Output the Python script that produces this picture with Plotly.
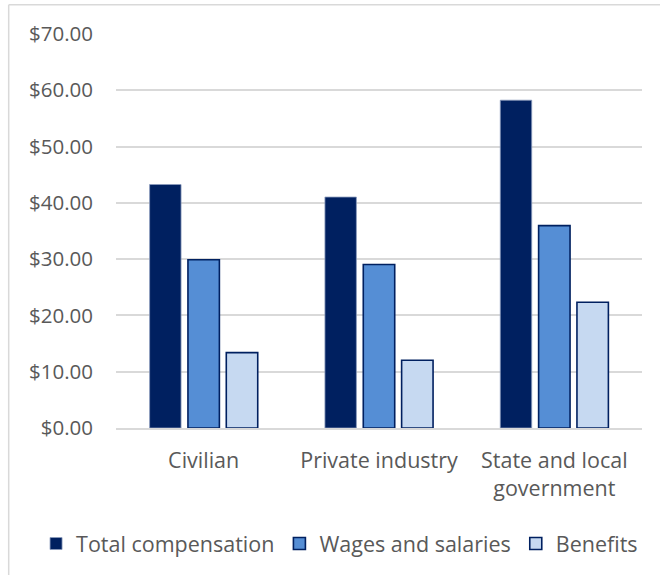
import plotly.graph_objects as go

categories = ["Civilian", "Private industry", "State and local<br>government"]
total_comp = [43.26, 41.03, 58.24]
wages = [29.90, 29.05, 35.96]
benefits = [13.40, 12.05, 22.35]
series_names = ["Total compensation", "Wages and salaries", "Benefits"]
y_ticks = [0, 10, 20, 30, 40, 50, 60, 70]

FONT = "Open Sans"
TXT = "#595959"
FS = 21.5

fig = go.Figure()
fig.add_bar(x=categories, y=total_comp, name=series_names[0],
            marker=dict(color="#002060", line=dict(color="#8a9bbd", width=0.8)))
fig.add_bar(x=categories, y=wages, name=series_names[1],
            marker=dict(color="#558ED5", line=dict(color="#002060", width=1.6)))
fig.add_bar(x=categories, y=benefits, name=series_names[2],
            marker=dict(color="#C6D9F1", line=dict(color="#002060", width=1.6)))

fig.update_layout(
    width=660, height=575,
    margin=dict(l=116, r=18, t=34, b=146),
    paper_bgcolor="white", plot_bgcolor="white",
    barmode="group", bargap=0.344, bargroupgap=0.18,
    font=dict(family=FONT, size=FS, color=TXT),
    showlegend=True,
    legend=dict(orientation="h", x=-0.152, xanchor="left", y=-0.29, yanchor="middle",
                font=dict(family=FONT, size=FS, color=TXT), itemwidth=30,
                traceorder="normal", bgcolor="rgba(0,0,0,0)"),
    xaxis=dict(showgrid=False, showline=True, linecolor="#d9d9d9", linewidth=1.5,
               ticks="", tickfont=dict(family=FONT, size=FS, color=TXT),
               ticklabelstandoff=12),
    yaxis=dict(range=[0, 70], tickvals=y_ticks, tickformat="$.2f",
               showgrid=True, gridcolor="#d9d9d9", gridwidth=1.5,
               zeroline=False, showline=False, ticks="",
               tickfont=dict(family=FONT, size=20.5, color=TXT),
               ticklabelstandoff=22),
    shapes=[
        dict(type="line", xref="paper", yref="paper", x0=-0.204, x1=1.2, y0=1.074, y1=1.074,
             line=dict(color="#d9d9d9", width=1.5)),
        dict(type="line", xref="paper", yref="paper", x0=-0.204, x1=-0.204, y0=1.074, y1=-0.45,
             line=dict(color="#d9d9d9", width=1.5)),
    ],
)

fig.write_html("out.html", config={"displayModeBar": False},
               post_script="document.body.style.margin='0';")
